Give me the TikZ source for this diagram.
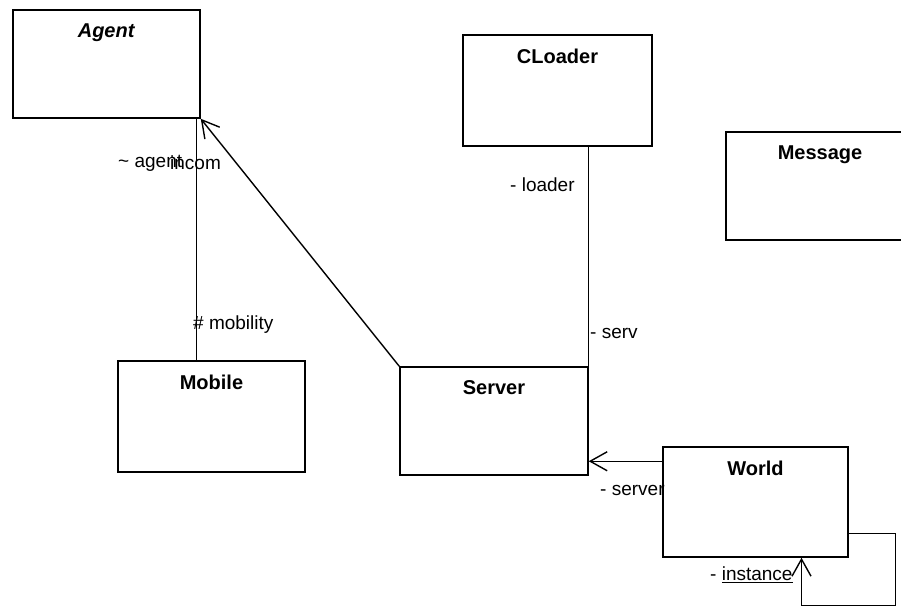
\documentclass[tikz,border=0pt]{standalone}
\usepackage{fontspec}
\setmainfont{Liberation Sans}
\usetikzlibrary{arrows.meta, calc}

\begin{document}
\begin{tikzpicture}[
    x=1pt, y=-1pt,
    cls/.style 2 args={draw, line width=1.5pt, minimum width=#1pt, minimum height=#2pt, inner sep=0pt},
    title/.style={label={[font=\fontsize{20}{23}\selectfont\bfseries, anchor=north, yshift=-11pt]north:#1}},
    role/.style={font=\fontsize{19}{22}\selectfont, inner sep=0pt, anchor=west},
    link/.style={line width=1.4pt},
    assoc/.style={line width=1.4pt, -{Straight Barb[length=17pt, width=19pt, line width=1.4pt]}}
]
\clip (0,0) rectangle (901,608);
\fill[white] (0,0) rectangle (901,608);
\node[cls={187}{108}, title=\textit{Agent}] (agent) at (106.5,64) {};
\node[cls={189}{111}, title=CLoader] (cloader) at (557.5,90.5) {};
\node[cls={188}{108}, title=Message] (message) at (820,186) {};
\node[cls={187}{111}, title=Mobile] (mobile) at (211.5,416.5) {};
\node[cls={188}{108}, title=Server] (server) at (494,421) {};
\node[cls={185}{110}, title=World] (world) at (755.5,502) {};

\coordinate (mob) at ($(mobile.north west)!0.42!(mobile.north east)$);
\draw[link] (mob) -- (mob |- agent.south);
\draw[assoc] (server.north west) -- (agent.south east);
\draw[link] (server.north east) -- (server.north east |- cloader.south);
\coordinate (wl) at ($(world.north west)+(0,15)$);
\draw[assoc] (wl) -- (wl -| server.east);
\draw[assoc] ($(world.south east)+(0,-24)$) -- ++(47,0) |- ($(world.south)+(46,48)$) -- ($(world.south)+(46,0)$);

\node[role] (agentrole) at (118,163) {\textasciitilde{} agent};
\node[role] (incomrole) at (170,163) {incom};
\node[role] (mobrole) at (193,325) {\# mobility};
\node[role] (loaderrole) at (510,185) {- loader};
\node[role] (servrole) at (590,333) {- serv};
\node[role] (serverrole) at (600,490) {- server};
\node[role] (instrole) at (710,575) {- \underline{instance}};
\end{tikzpicture}
\end{document}
